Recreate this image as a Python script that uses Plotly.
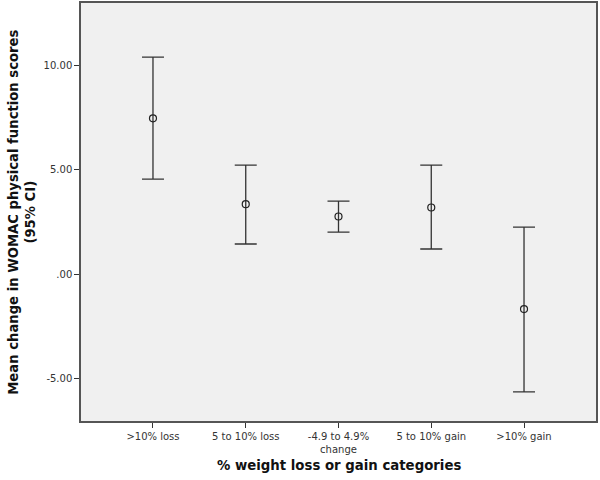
import plotly.graph_objects as go

categories = [">10% loss", "5 to 10% loss", "-4.9 to 4.9%<br>change", "5 to 10% gain", ">10% gain"]
means = [7.47, 3.35, 2.76, 3.19, -1.68]
ci_upper = [10.40, 5.22, 3.50, 5.22, 2.25]
ci_lower = [4.55, 1.44, 2.01, 1.20, -5.65]
y_ticks = [-5, 0, 5, 10]
y_tick_labels = ["-5.00", ".00", "5.00", "10.00"]

x_pos = list(range(len(categories)))
err_plus = [u - m for u, m in zip(ci_upper, means)]
err_minus = [m - l for m, l in zip(means, ci_lower)]

fig = go.Figure()
fig.add_trace(go.Scatter(
    x=x_pos,
    y=means,
    mode="markers",
    marker={"symbol": "circle-open", "size": 7, "color": "#222222", "line": {"width": 1.2}},
    error_y={
        "type": "data",
        "symmetric": False,
        "array": err_plus,
        "arrayminus": err_minus,
        "color": "#333333",
        "thickness": 1.3,
        "width": 11,
    },
    showlegend=False,
))

axis_common = {
    "ticks": "outside",
    "ticklen": 5,
    "tickcolor": "#333333",
    "tickfont": {"size": 10, "color": "#333333"},
    "showgrid": False,
    "zeroline": False,
    "showline": True,
    "linecolor": "#555555",
    "linewidth": 1.5,
    "mirror": True,
    "automargin": False,
}

fig.update_layout(
    width=600,
    height=480,
    paper_bgcolor="white",
    plot_bgcolor="#f0f0f0",
    margin={"l": 81, "r": 4, "t": 3, "b": 59},
    font={"family": "DejaVu Sans, Arial, sans-serif", "color": "#333333"},
    xaxis={**axis_common, "range": [-0.776, 4.776], "tickvals": x_pos, "ticktext": categories},
    yaxis={**axis_common, "range": [-7.05, 13.0], "tickvals": y_ticks, "ticktext": y_tick_labels},
    annotations=[
        {
            "text": "<b>% weight loss or gain categories</b>",
            "xref": "paper", "yref": "paper", "x": 0.5, "y": -0.107,
            "xanchor": "center", "yanchor": "middle", "showarrow": False,
            "font": {"size": 13.3, "color": "#111111"},
        },
        {
            "text": "<b>Mean change in WOMAC physical function scores<br>(95% CI)</b>",
            "xref": "paper", "yref": "paper", "x": -0.115, "y": 0.5,
            "xanchor": "center", "yanchor": "middle", "showarrow": False,
            "textangle": -90,
            "font": {"size": 13.2, "color": "#111111"},
        },
    ],
)

fig.write_html("out.html", config={"displayModeBar": False},
               post_script="document.body.style.margin='0';")
